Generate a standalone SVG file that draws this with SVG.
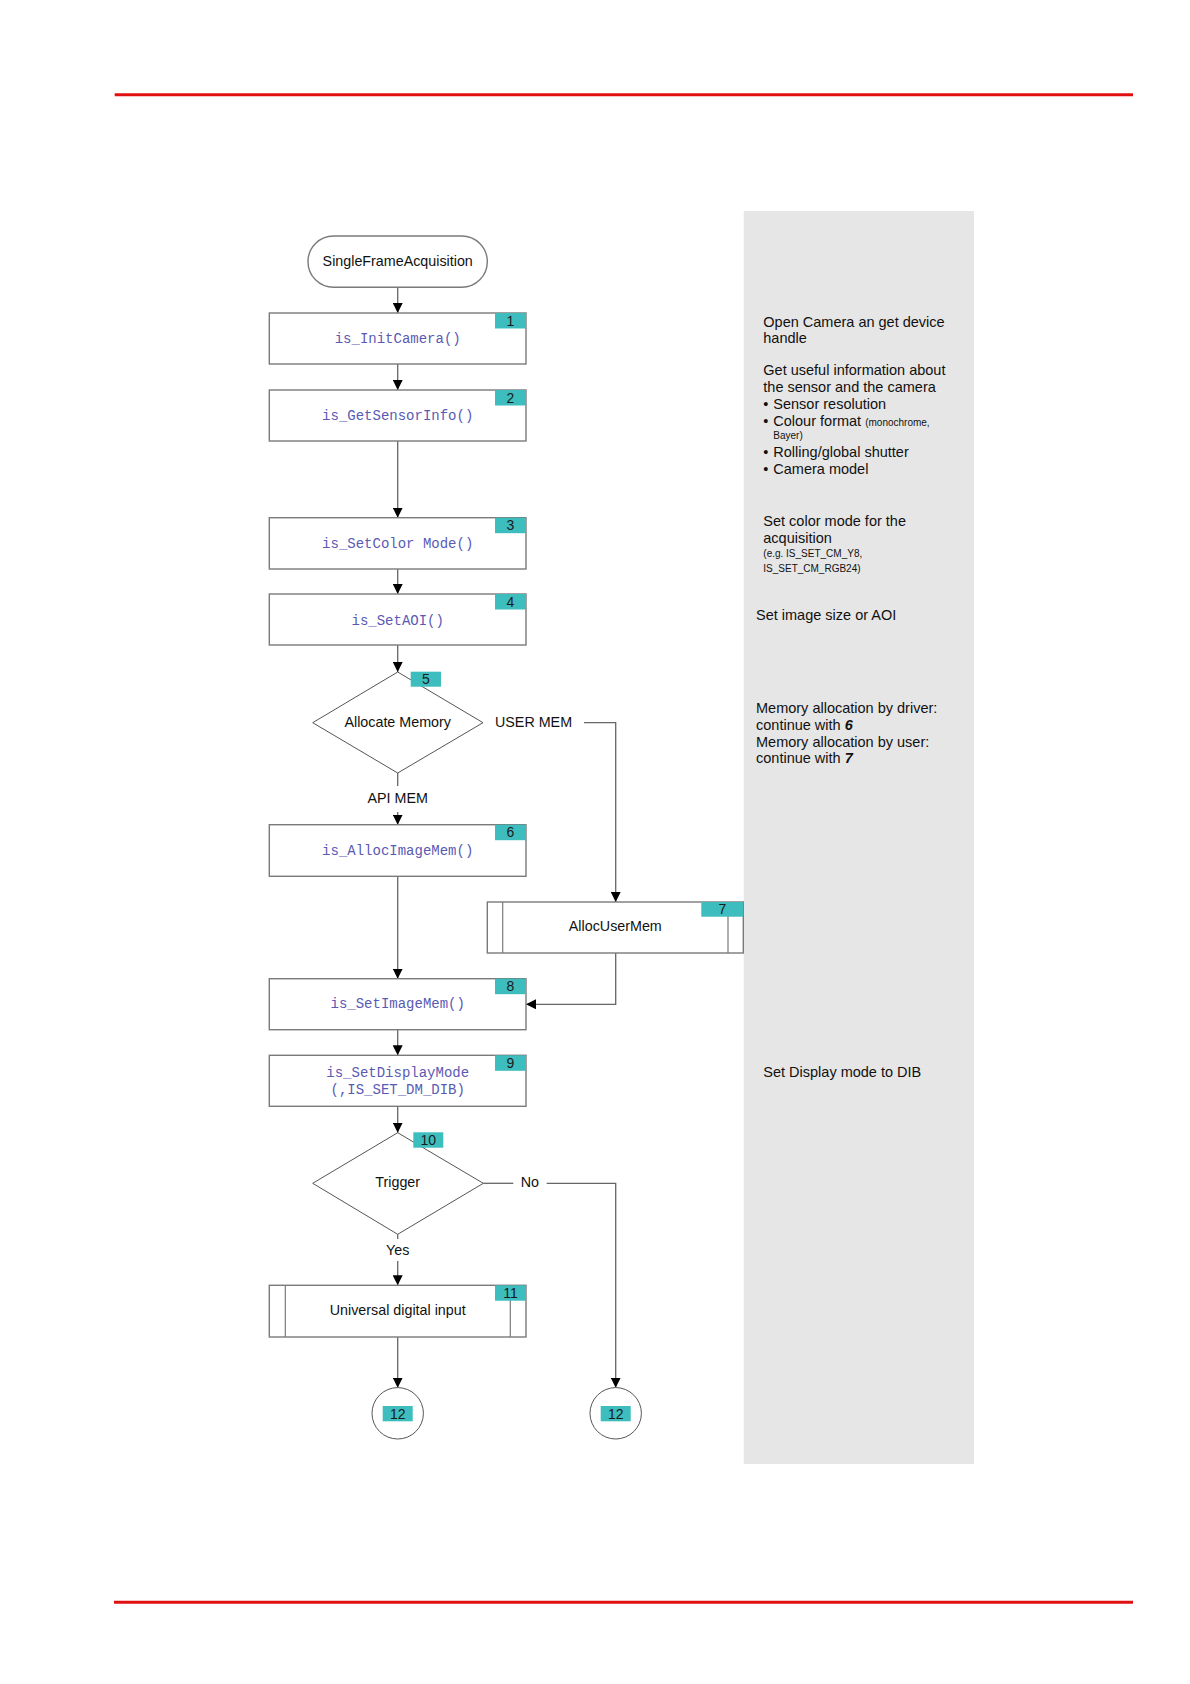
<svg xmlns="http://www.w3.org/2000/svg" width="1190" height="1684" viewBox="0 0 1190 1684">
<style>
.box{fill:#fff;stroke:#7a7a7a;stroke-width:1.4}
.dia{fill:#fff;stroke:#555;stroke-width:1}
.badge{fill:#3dbdbd}
.bt{font-family:"Liberation Sans",Arial,sans-serif;font-size:14px;fill:#1a1a1a;text-anchor:middle}
.code{font-family:"Liberation Mono","Courier New",monospace;font-size:14px;fill:#5a5ab4;text-anchor:middle}
.lbl{font-family:"Liberation Sans",Arial,sans-serif;font-size:14.3px;fill:#111}
.mid{text-anchor:middle}
.note{font-family:"Liberation Sans",Arial,sans-serif;font-size:14.5px;fill:#111}
.small{font-size:10px}
.con{fill:none;stroke:#666;stroke-width:1.3}
</style>
<defs>
<marker id="arr" viewBox="0 0 10 10" refX="10" refY="5" markerWidth="10" markerHeight="10" markerUnits="userSpaceOnUse" orient="auto">
<path d="M0,0 L10,5 L0,10 z" fill="#000"/>
</marker>
</defs>
<rect width="1190" height="1684" fill="#fff"/>
<line x1="114.7" y1="94.7" x2="1133" y2="94.7" stroke="#e01010" stroke-width="3"/>
<line x1="114" y1="1602.3" x2="1133" y2="1602.3" stroke="#e01010" stroke-width="3"/>
<rect x="743.7" y="211" width="230.3" height="1253" fill="#e6e6e6"/>
<g id="notes">
<text class="note" x="763.3" y="326.7">Open Camera an get device</text>
<text class="note" x="763.3" y="343.3">handle</text>
<text class="note" x="763.3" y="375">Get useful information about</text>
<text class="note" x="763.3" y="391.7">the sensor and the camera</text>
<text class="note" x="763.3" y="409">•</text><text class="note" x="773.3" y="409">Sensor resolution</text>
<text class="note" x="763.3" y="426">•</text><text class="note" x="773.3" y="426">Colour format <tspan class="small">(monochrome,</tspan></text>
<text class="note small" x="773.3" y="439.3">Bayer)</text>
<text class="note" x="763.3" y="456.7">•</text><text class="note" x="773.3" y="456.7">Rolling/global shutter</text>
<text class="note" x="763.3" y="474">•</text><text class="note" x="773.3" y="474">Camera model</text>
<text class="note" x="763.3" y="526">Set color mode for the</text>
<text class="note" x="763.3" y="542.7">acquisition</text>
<text class="note small" x="763.3" y="557.3">(e.g. IS_SET_CM_Y8,</text>
<text class="note small" x="763.3" y="571.5">IS_SET_CM_RGB24)</text>
<text class="note" x="756" y="620">Set image size or AOI</text>
<text class="note" x="756" y="713.3">Memory allocation by driver:</text>
<text class="note" x="756" y="730">continue with <tspan font-weight="bold" font-style="italic">6</tspan></text>
<text class="note" x="756" y="746.7">Memory allocation by user:</text>
<text class="note" x="756" y="763.3">continue with <tspan font-weight="bold" font-style="italic">7</tspan></text>
<text class="note" x="763.3" y="1076.7">Set Display mode to DIB</text>
</g>
<g id="connectors">
<line class="con" x1="397.7" y1="287.3" x2="397.7" y2="313" marker-end="url(#arr)"/>
<line class="con" x1="397.7" y1="364" x2="397.7" y2="390" marker-end="url(#arr)"/>
<line class="con" x1="397.7" y1="441" x2="397.7" y2="517.7" marker-end="url(#arr)"/>
<line class="con" x1="397.7" y1="569" x2="397.7" y2="594" marker-end="url(#arr)"/>
<line class="con" x1="397.7" y1="645" x2="397.7" y2="672" marker-end="url(#arr)"/>
<line class="con" x1="397.7" y1="773" x2="397.7" y2="786"/>
<line class="con" x1="397.7" y1="812" x2="397.7" y2="824.7" marker-end="url(#arr)"/>
<polyline class="con" points="584,722.7 615.7,722.7 615.7,902" marker-end="url(#arr)"/>
<line class="con" x1="397.7" y1="876.3" x2="397.7" y2="978.7" marker-end="url(#arr)"/>
<polyline class="con" points="615.7,953 615.7,1004.3 526,1004.3" marker-end="url(#arr)"/>
<line class="con" x1="397.7" y1="1029.7" x2="397.7" y2="1055.3" marker-end="url(#arr)"/>
<line class="con" x1="397.7" y1="1106.3" x2="397.7" y2="1132.7" marker-end="url(#arr)"/>
<line class="con" x1="483.3" y1="1183.3" x2="513.3" y2="1183.3"/>
<polyline class="con" points="546.7,1183.3 615.7,1183.3 615.7,1387.7" marker-end="url(#arr)"/>
<line class="con" x1="397.7" y1="1234.3" x2="397.7" y2="1239"/>
<line class="con" x1="397.7" y1="1261" x2="397.7" y2="1285.3" marker-end="url(#arr)"/>
<line class="con" x1="397.7" y1="1337" x2="397.7" y2="1387.7" marker-end="url(#arr)"/>
<text class="lbl" x="495" y="726.7">USER MEM</text>
<text class="lbl mid" x="397.7" y="803">API MEM</text>
<text class="lbl" x="520.7" y="1187.3">No</text>
<text class="lbl mid" x="397.7" y="1255">Yes</text>
</g>
<g id="start">
<rect x="308" y="236" width="179.3" height="51.3" rx="25.6" class="box" stroke="#444" stroke-width="1"/>
<text class="lbl mid" x="397.7" y="266">SingleFrameAcquisition</text>
</g>
<g id="n1">
<rect class="box" x="269.3" y="313" width="256.7" height="51"/>
<rect class="badge" x="495" y="313" width="31" height="15.5"/>
<text class="bt" x="510.5" y="325.5">1</text>
<text class="code" x="397.7" y="342.7">is_InitCamera()</text>
</g>
<g id="n2">
<rect class="box" x="269.3" y="390" width="256.7" height="51"/>
<rect class="badge" x="495" y="390" width="31" height="15.5"/>
<text class="bt" x="510.5" y="402.5">2</text>
<text class="code" x="397.7" y="420">is_GetSensorInfo()</text>
</g>
<g id="n3">
<rect class="box" x="269.3" y="517.7" width="256.7" height="51.3"/>
<rect class="badge" x="495" y="517.7" width="31" height="15.5"/>
<text class="bt" x="510.5" y="530.2">3</text>
<text class="code" x="397.7" y="547.7">is_SetColor Mode()</text>
</g>
<g id="n4">
<rect class="box" x="269.3" y="594" width="256.7" height="51"/>
<rect class="badge" x="495" y="594" width="31" height="15.5"/>
<text class="bt" x="510.5" y="606.5">4</text>
<text class="code" x="397.7" y="625" fill="#7070c0">is_SetAOI()</text>
</g>
<g id="n5">
<polygon class="dia" points="397.7,672 483,722.7 397.7,773 312.7,722.7"/>
<rect class="badge" x="410.7" y="671.7" width="30.3" height="15"/>
<text class="bt" x="425.8" y="684.3">5</text>
<text class="lbl mid" x="397.7" y="726.7">Allocate Memory</text>
</g>
<g id="n6">
<rect class="box" x="269.3" y="824.7" width="256.7" height="51.6"/>
<rect class="badge" x="495" y="824.7" width="31" height="15.5"/>
<text class="bt" x="510.5" y="837.2">6</text>
<text class="code" x="397.7" y="855">is_AllocImageMem()</text>
</g>
<g id="n7">
<rect class="box" x="487.3" y="902" width="256" height="51"/>
<line x1="502.7" y1="902" x2="502.7" y2="953" stroke="#7a7a7a" stroke-width="1.2"/>
<line x1="728" y1="902" x2="728" y2="953" stroke="#7a7a7a" stroke-width="1.2"/>
<rect class="badge" x="701.3" y="902" width="42" height="14.7"/>
<text class="bt" x="722.3" y="914.3">7</text>
<text class="lbl mid" x="615.3" y="930.7">AllocUserMem</text>
</g>
<g id="n8">
<rect class="box" x="269.3" y="978.7" width="256.7" height="51"/>
<rect class="badge" x="495" y="978.7" width="31" height="15.5"/>
<text class="bt" x="510.5" y="991.2">8</text>
<text class="code" x="397.7" y="1008.3">is_SetImageMem()</text>
</g>
<g id="n9">
<rect class="box" x="269.3" y="1055.3" width="256.7" height="51"/>
<rect class="badge" x="495" y="1055.3" width="31" height="15.5"/>
<text class="bt" x="510.5" y="1067.8">9</text>
<text class="code" x="397.7" y="1076.7">is_SetDisplayMode</text>
<text class="code" x="397.7" y="1094">(,IS_SET_DM_DIB)</text>
</g>
<g id="n10">
<polygon class="dia" points="397.7,1132.7 483.3,1183.3 397.7,1234.3 312.7,1183.3"/>
<rect class="badge" x="413.3" y="1132.3" width="30" height="15.4"/>
<text class="bt" x="428.3" y="1145">10</text>
<text class="lbl mid" x="397.7" y="1187.3">Trigger</text>
</g>
<g id="n11">
<rect class="box" x="269.3" y="1285.3" width="256.7" height="51.7"/>
<line x1="285.3" y1="1285.3" x2="285.3" y2="1337" stroke="#7a7a7a" stroke-width="1.2"/>
<line x1="510.3" y1="1285.3" x2="510.3" y2="1337" stroke="#7a7a7a" stroke-width="1.2"/>
<rect class="badge" x="495" y="1285.3" width="31" height="15.4"/>
<text class="bt" x="510.5" y="1298">11</text>
<text class="lbl mid" x="397.7" y="1315">Universal digital input</text>
</g>
<g id="n12a">
<circle cx="397.7" cy="1413.3" r="25.7" fill="#fff" stroke="#555" stroke-width="1"/>
<rect class="badge" x="382.7" y="1406" width="30" height="15.3"/>
<text class="bt" x="397.7" y="1418.8">12</text>
</g>
<g id="n12b">
<circle cx="615.7" cy="1413.3" r="25.7" fill="#fff" stroke="#555" stroke-width="1"/>
<rect class="badge" x="600.7" y="1406" width="30" height="15.3"/>
<text class="bt" x="615.7" y="1418.8">12</text>
</g>
</svg>
